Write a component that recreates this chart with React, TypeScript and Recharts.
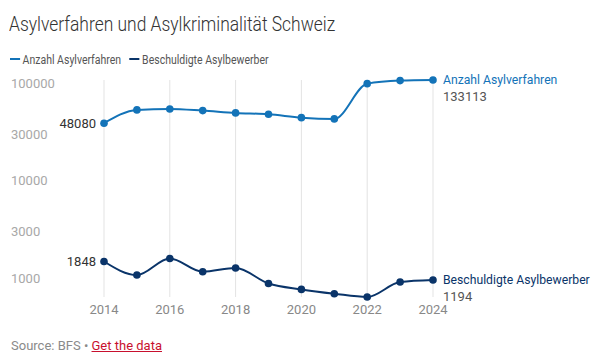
import { LineChart, Line, XAxis, YAxis, CartesianGrid } from 'recharts';

const years = [2014, 2015, 2016, 2017, 2018, 2019, 2020, 2021, 2022, 2023, 2024];
const asylverfahren = [48080, 65800, 67300, 64700, 61300, 59400, 54800, 53200, 122200, 131200, 133113];
const beschuldigte = [1848, 1343, 1983, 1452, 1585, 1101, 957, 865, 800, 1138, 1194];
const yTicks = [1000, 3000, 10000, 30000, 100000];
const xTicks = [2014, 2016, 2018, 2020, 2022, 2024];

const BLUE = '#1373b8';
const NAVY = '#0a3469';
const FONT = 'Roboto, "Noto Sans", sans-serif';

const data = years.map((year, i) => ({
  year,
  verfahren: asylverfahren[i],
  beschuldigte: beschuldigte[i],
}));

const YTick = (props: any) => {
  const { y, payload } = props;
  return (
    <text x={11} y={y - 9} dy="0.35em" fontSize={13} fill="#a8a8a8" fontFamily={FONT}>
      {payload.value}
    </text>
  );
};

const makeLabel = (name: string, color: string, series: number[]) => (props: any) => {
  const { x, y, index } = props;
  if (index === 0) {
    return (
      <text x={x - 8} y={y} dy="0.35em" textAnchor="end" fontSize={13} fill="#333" fontFamily={FONT}>
        {series[0]}
      </text>
    );
  }
  if (index === series.length - 1) {
    return (
      <g>
        <text x={x + 10} y={y} dy="0.35em" fontSize={12.2} fill={color} fontFamily={FONT}>
          {name}
        </text>
        <text x={x + 10} y={y + 16.5} dy="0.35em" fontSize={13} fill="#555" fontFamily={FONT}>
          {series[series.length - 1]}
        </text>
      </g>
    );
  }
  return null;
};

const LegendItem = ({ color, label }: { color: string; label: string }) => (
  <span style={{ display: 'inline-flex', alignItems: 'center', marginRight: 10 }}>
    <span style={{ width: 12, height: 2, background: color, display: 'inline-block', marginRight: 3 }} />
    <span>{label}</span>
  </span>
);

const App = () => {
  return (
    <div style={{ position: 'absolute', left: 0, top: 0, width: 604, height: 363, background: '#fff', fontFamily: FONT }}>
      <div
        style={{
          position: 'absolute', left: 9, top: 12, fontSize: 21, fontWeight: 300, color: '#333',
          whiteSpace: 'nowrap', transform: 'scaleX(0.83)', transformOrigin: 'left top',
        }}
      >
        Asylverfahren und Asylkriminalität Schweiz
      </div>
      <div
        style={{
          position: 'absolute', left: 10, top: 48, fontSize: 12.5, color: '#555',
          whiteSpace: 'nowrap', transform: 'scaleX(0.84)', transformOrigin: 'left top',
        }}
      >
        <LegendItem color={BLUE} label="Anzahl Asylverfahren" />
        <LegendItem color={NAVY} label="Beschuldigte Asylbewerber" />
      </div>
      <div style={{ position: 'absolute', left: 0, top: 0 }}>
        <LineChart width={604} height={363} data={data} margin={{ top: 80, right: 171, bottom: 36, left: 44 }}>
          <CartesianGrid horizontal={false} stroke="#e3e3e3" />
          <XAxis
            dataKey="year"
            type="number"
            domain={[2014, 2024]}
            ticks={xTicks}
            axisLine={false}
            tickLine={false}
            height={30}
            tick={{ fontSize: 13, fill: '#888', fontFamily: FONT }}
          />
          <YAxis
            scale="log"
            domain={['dataMin', 'dataMax']}
            ticks={yTicks}
            width={60}
            axisLine={false}
            tickLine={false}
            tick={YTick}
            interval={0}
          />
          <Line
            dataKey="verfahren"
            type="monotone"
            stroke={BLUE}
            strokeWidth={2}
            dot={{ r: 3.8, fill: BLUE, stroke: 'none' }}
            isAnimationActive={false}
            label={makeLabel('Anzahl Asylverfahren', BLUE, asylverfahren)}
          />
          <Line
            dataKey="beschuldigte"
            type="monotone"
            stroke={NAVY}
            strokeWidth={2}
            dot={{ r: 3.8, fill: NAVY, stroke: 'none' }}
            isAnimationActive={false}
            label={makeLabel('Beschuldigte Asylbewerber', NAVY, beschuldigte)}
          />
        </LineChart>
      </div>
      <div style={{ position: 'absolute', left: 11, top: 338, fontSize: 13, color: '#8a8a8a', whiteSpace: 'nowrap' }}>
        Source: BFS •{' '}
        <span style={{ color: '#c8102e', textDecoration: 'underline' }}>Get the data</span>
      </div>
    </div>
  );
};

export default App;
